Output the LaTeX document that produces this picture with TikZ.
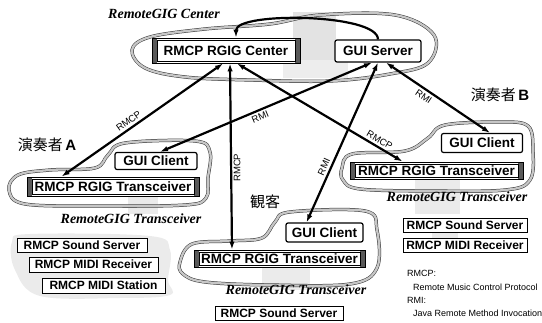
\documentclass[tikz,border=0pt]{standalone}
\usepackage{fontspec}
\setmainfont{Liberation Serif}
\setsansfont{Liberation Sans}
\newfontfamily\cjk{Noto Sans CJK JP}
\usetikzlibrary{arrows.meta,shadows}

\begin{document}
\begin{tikzpicture}[x=1pt,y=-1pt,
  cloudline/.style={draw=black!80, line width=0.5pt, double=gray!45, double distance=2.3pt},
  shade/.style={fill=gray!16},
  boxfont/.style={font=\sffamily\bfseries\fontsize{13.5}{14}\selectfont},
  rgig/.style={boxfont, draw, line width=0.9pt, fill=white, inner sep=0pt,
    path picture={
      \fill[black!65] (path picture bounding box.north west) rectangle ([xshift=5pt]path picture bounding box.south west);
      \fill[black!65] (path picture bounding box.north east) rectangle ([xshift=-5pt]path picture bounding box.south east);
      \draw[line width=0.5pt] ([xshift=5pt,yshift=-2pt]path picture bounding box.north west) rectangle ([xshift=-5pt,yshift=2pt]path picture bounding box.south east);
    }},
  gui/.style={boxfont, draw, line width=1.2pt, rounded corners=2pt, fill=white, inner sep=0pt},
  unit/.style={font=\sffamily\bfseries\fontsize{12}{13}\selectfont, draw, line width=0.8pt, fill=white, inner sep=0pt,
    drop shadow={shadow xshift=0.9pt, shadow yshift=-0.9pt, fill=black, opacity=1}},
  tip/.style={-{Latex[length=8pt,width=5.5pt]}},
  conn/.style={line width=2.2pt, {Latex[length=8pt,width=5.5pt]}-{Latex[length=8pt,width=5.5pt]}},
  lbl/.style={font=\sffamily\fontsize{9.5}{10}\selectfont, inner sep=1.5pt},
  grp/.style={font=\rmfamily\bfseries\itshape\fontsize{14}{15}\selectfont, inner sep=0pt},
  who/.style={font=\cjk\fontsize{15}{16}\selectfont, inner sep=0pt},
  legend/.style={font=\sffamily\fontsize{9}{10}\selectfont, inner sep=0pt, anchor=west}
]
\useasboundingbox (0,0) rectangle (542,323);

% grey shading behind the machines
\fill[gray!22] (293,12) rectangle (336,70);
\fill[gray!14] (283,60) rectangle (348,78);
\fill[shade] plot[smooth cycle, tension=0.6] coordinates {(12,242) (30,234) (150,236) (170,250) (168,280) (170,295) (120,298) (40,296) (15,270)};
\fill[shade] (128,196) rectangle (158,214);
\fill[shade] (262,266) rectangle (310,290);
\fill[shade] (415,178) rectangle (460,214);
\fill[shade] (432,230) rectangle (458,239);

% group outlines
\draw[cloudline] plot[smooth cycle, tension=0.6] coordinates {(132,50) (150,37) (205,29) (270,24) (320,15) (395,15) (434,35) (428,63) (390,74) (330,81) (250,80) (185,77) (145,68)};
\draw[cloudline] plot[smooth cycle, tension=0.6] coordinates {(9,190) (18,175) (50,170) (95,168) (108,155) (125,143) (195,141) (210,152) (208,178) (206,198) (185,205) (100,206) (25,204)};
\draw[cloudline] plot[smooth cycle, tension=0.6] coordinates {(342,168) (352,154) (405,151) (428,138) (445,125) (500,122) (528,126) (533,150) (530,180) (505,190) (430,191) (360,189) (343,180)};
\draw[cloudline] plot[smooth cycle, tension=0.6] coordinates {(180,262) (192,244) (230,241) (262,238) (275,222) (290,212) (365,211) (377,230) (377,268) (350,284) (270,285) (205,282) (183,274)};

% center
\node[grp] (lc) at (164,14) {RemoteGIG Center};
\node[rgig, minimum width=148pt, minimum height=25pt] (c) at (226,50.5) {RMCP RGIG Center};
\node[gui, minimum width=86pt, minimum height=22pt] (gs) at (378,51) {GUI Server};

% performer A
\node[who] (wa) at (47,145) {演奏者\,{\sffamily\bfseries A}};
\node[gui, minimum width=82pt, minimum height=17pt] (ga) at (156,161) {GUI Client};
\node[rgig, minimum width=172pt, minimum height=19pt] (ta) at (113,186.5) {RMCP RGIG Transceiver};
\node[grp] (la) at (131,219) {RemoteGIG Transceiver};
\node[unit, minimum width=130pt, minimum height=14pt] (sa1) at (82,245) {RMCP Sound Server};
\node[unit, minimum width=129pt, minimum height=15pt] (sa2) at (93.5,264.5) {RMCP MIDI Receiver};
\node[unit, minimum width=123pt, minimum height=15pt] (sa3) at (103.5,285.5) {RMCP MIDI Station};

% audience
\node[who] (wo) at (265,202) {観客};
\node[gui, minimum width=77pt, minimum height=19pt] (go) at (324.5,232.5) {GUI Client};
\node[rgig, minimum width=171pt, minimum height=17pt] (to) at (279.5,258.5) {RMCP RGIG Transceiver};
\node[grp] (lo) at (296,290) {RemoteGIG Transceiver};
\node[unit, minimum width=128pt, minimum height=14pt] (so1) at (279,313) {RMCP Sound Server};

% performer B
\node[who] (wb) at (500,95) {演奏者\,{\sffamily\bfseries B}};
\node[gui, minimum width=81pt, minimum height=19pt] (gb) at (482,143) {GUI Client};
\node[rgig, minimum width=173pt, minimum height=17pt] (tb) at (436.5,170.5) {RMCP RGIG Transceiver};
\node[grp] (lb) at (457,197) {RemoteGIG Transceiver};
\node[unit, minimum width=124pt, minimum height=14pt] (sb1) at (465,225) {RMCP Sound Server};
\node[unit, minimum width=124pt, minimum height=14pt] (sb2) at (465,245) {RMCP MIDI Receiver};

% legend
\node[legend] (k1) at (407,273) {RMCP:};
\node[legend] (k2) at (413,287) {Remote Music Control Protocol};
\node[legend] (k3) at (407,300) {RMI:};
\node[legend] (k4) at (413,313) {Java Remote Method Invocation};

% connections
\draw[line width=2.2pt, tip] (gs.north) .. controls +(0,-26) and +(0,-26) .. ([xshift=10pt]c.north);
\draw[conn] ([xshift=-3pt]c.south) -- node[lbl, sloped, above=1pt, pos=0.56] {RMCP} ([xshift=35pt]ta.north west);
\draw[conn] ([xshift=-6pt]gs.south) -- node[lbl, sloped, below=1pt, pos=0.54] {RMI} ([xshift=4pt]ga.north);
\draw[conn] ([xshift=4pt]c.south) -- node[lbl, rotate=90, anchor=north, pos=0.56] {RMCP} ([xshift=-47.5pt]to.north);
\draw[conn] ([xshift=11pt]c.south) -- node[lbl, sloped, above=1pt, pos=0.84] {RMCP} ([xshift=53pt]tb.north west);
\draw[conn] (gs.south) -- node[lbl, sloped, above=1pt, pos=0.67] {RMI} ([xshift=-18pt]go.north);
\draw[conn] ([xshift=8pt]gs.south) -- node[lbl, sloped, below=1pt, pos=0.4] {RMI} ([xshift=8pt]gb.north);
\end{tikzpicture}
\end{document}
